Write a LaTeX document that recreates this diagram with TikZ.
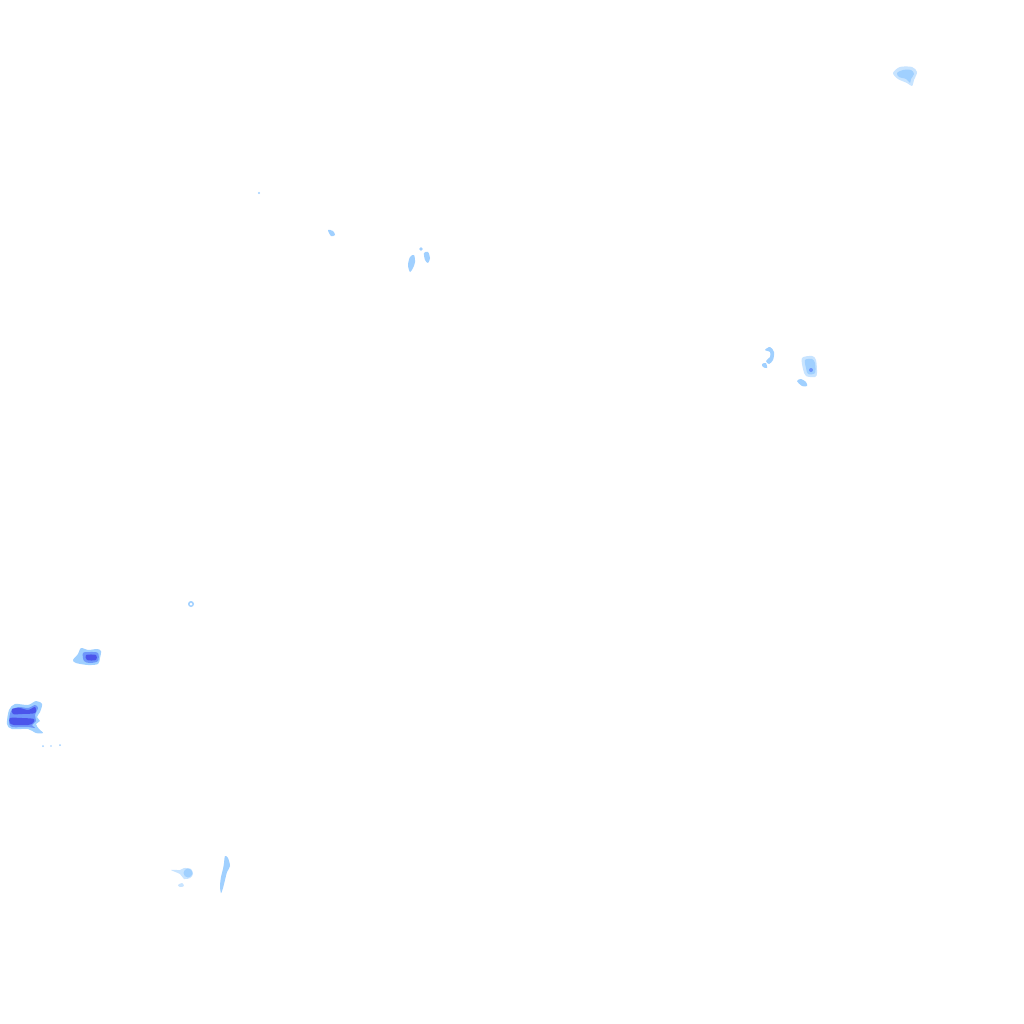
\documentclass[tikz,border=0pt]{standalone}
\usepackage{tikz}
\tikzset{
    rainfaint/.style={fill={rgb,255:red,200;green,228;blue,255}},
    rainlight/.style={fill={rgb,255:red,160;green,208;blue,255}},
    rainmid/.style={fill={rgb,255:red,110;green,150;blue,250}},
    rainheavy/.style={fill={rgb,255:red,75;green,85;blue,235}},
}
\begin{document}
\begin{tikzpicture}[x=1pt,y=-1pt]
    \useasboundingbox[fill=white] (0,0) rectangle (1024,1024);

    % north-east cell
    \fill[rainfaint] plot[smooth cycle] coordinates {(893,73) (900,67) (912,67) (917,72) (914,80) (912,86) (907,83) (898,79)};
    \fill[rainlight] plot[smooth cycle] coordinates {(897,73) (903,70) (911,70) (914,74) (911,79) (910,83) (906,79) (899,77)};

    % specks in the north-west
    \fill[rainlight] (259,193) circle (1.2);
    \fill[rainlight] plot[smooth cycle] coordinates {(328,230) (333,231) (335,235) (331,236)};
    \fill[rainlight] plot[smooth cycle] coordinates {(410,257) (414,255) (415,262) (413,268) (410,272) (408,265)};
    \fill[rainlight] (421,249) circle (1.8);
    \fill[rainlight] plot[smooth cycle] coordinates {(424,253) (428,252) (430,258) (428,263) (425,260)};

    % eastern cells
    \fill[rainlight] plot[smooth cycle] coordinates {(765,350) (770,347) (774,352) (773,360) (769,364) (766,361) (770,357) (770,352)};
    \fill[rainlight] plot[smooth cycle] coordinates {(762,364) (766,363) (767,368) (763,367)};
    \fill[rainfaint] plot[smooth cycle] coordinates {(802,358) (812,356) (816,360) (817,373) (815,377) (806,376) (803,369)};
    \fill[rainlight] plot[smooth cycle] coordinates {(805,360) (812,359) (815,363) (815,373) (808,374) (806,368)};
    \fill[rainmid] (811,370) circle (2);
    \fill[rainlight] plot[smooth cycle] coordinates {(797,381) (801,379) (806,382) (807,386) (802,386)};

    % western cells
    \fill[rainlight] (191,604) circle (3);
    \fill[white] (191,604) circle (1.5);
    \fill[rainlight] plot[smooth cycle] coordinates {(73,660) (78,654) (81,648) (88,650) (97,649) (101,651) (100,658) (98,664) (88,665) (76,663)};
    \fill[rainmid] plot[smooth cycle] coordinates {(83,653) (90,652) (98,653) (98,661) (90,663) (84,661)};
    \fill[rainheavy] plot[smooth cycle] coordinates {(86,655) (96,655) (96,660) (87,660)};

    \fill[rainlight] plot[smooth cycle] coordinates {(9,710) (15,704) (28,705) (36,701) (42,704) (40,712) (37,717) (40,721) (36,724) (39,729) (43,733) (36,733) (28,729) (12,729) (7,724)};
    \fill[rainmid] plot[smooth cycle] coordinates {(11,711) (18,707) (28,708) (35,705) (38,708) (35,715) (36,721) (32,725) (35,728) (28,727) (12,727) (9,722)};
    \fill[rainheavy] plot[smooth cycle] coordinates {(12,709) (20,708) (28,710) (35,707) (35,713) (22,714) (13,714)};
    \fill[rainheavy] plot[smooth cycle] coordinates {(10,718) (22,718) (34,719) (33,723) (28,725) (14,725) (10,723)};
    \fill[rainlight] (43,746) circle (1);
    \fill[rainlight] (51,746) circle (0.9);
    \fill[rainlight] (60,745) circle (1);

    % south-western cells
    \fill[rainfaint] plot[smooth cycle] coordinates {(171,870) (180,870) (184,868) (191,869) (193,874) (190,878) (184,879) (180,874)};
    \fill[rainlight] (188,873) circle (4.5);
    \fill[rainfaint] plot[smooth cycle] coordinates {(178,885) (182,883) (184,886) (180,887)};
    \fill[rainlight] plot[smooth cycle] coordinates {(225,856) (228,858) (230,866) (227,872) (225,880) (223,888) (221,893) (220,886) (221,877) (223,869) (224,863)};
\end{tikzpicture}
\end{document}
